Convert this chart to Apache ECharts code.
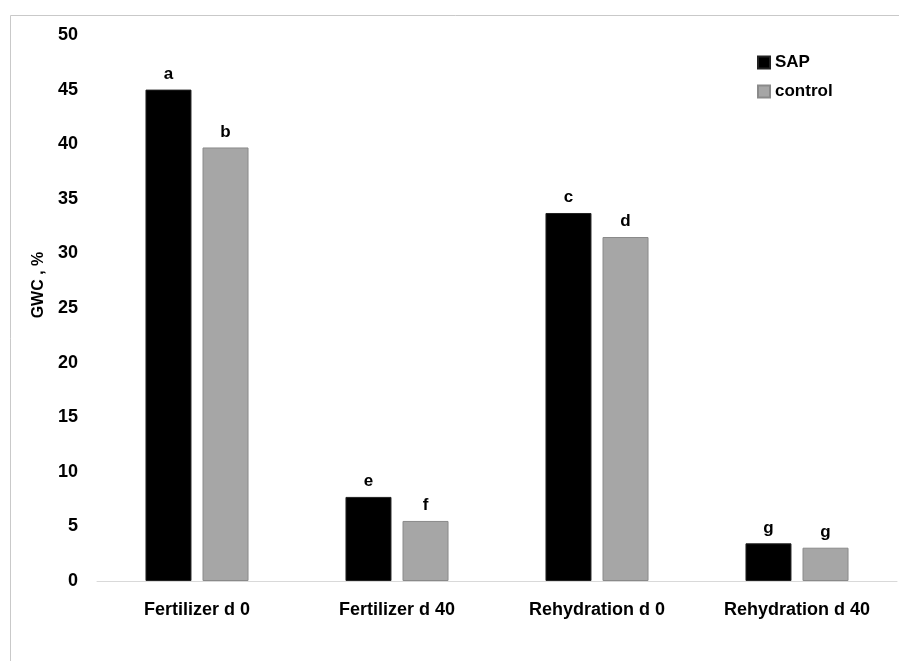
<!DOCTYPE html>
<html>
<head>
<meta charset="utf-8">
<script src="https://cdn.jsdelivr.net/npm/echarts@6/dist/echarts.min.js"></script>
<style>
  html, body { margin: 0; padding: 0; background: #fff; }
  #chart { width: 899px; height: 661px; }
</style>
</head>
<body>
<div id="chart"></div>
<script>
  // data
  var categories = ['Fertilizer d 0', 'Fertilizer d 40', 'Rehydration d 0', 'Rehydration d 40']
  var sapValues = [45.0, 7.7, 33.7, 3.45]
  var controlValues = [39.7, 5.5, 31.5, 3.05]
  var sapLetters = ['a', 'e', 'c', 'g']
  var controlLetters = ['b', 'f', 'd', 'g']
  var yTicks = [0, 50, 5]  // min, max, interval

  var font = 'Liberation Sans'

  function withLetters(values, letters) {
    return values.map(function (v, i) {
      return { value: v, label: { formatter: letters[i] } }
    })
  }

  var chart = echarts.init(document.getElementById('chart'))
  chart.setOption({
    animation: false,
    textStyle: { fontFamily: font },
    graphic: [{
      type: 'rect',
      shape: { x: 10.5, y: 15.5, width: 900, height: 660 },
      style: { fill: 'none', stroke: '#c9c9c9', lineWidth: 1 },
      silent: true
    }],
    legend: {
      orient: 'vertical',
      left: 752,
      top: 49,
      itemWidth: 12,
      itemHeight: 12,
      itemGap: 12,
      icon: 'rect',
      textStyle: { fontFamily: font, fontWeight: 'bold', fontSize: 17, color: '#000' },
      data: ['SAP', 'control']
    },
    grid: {
      left: 97,
      right: 2,
      top: 35,
      bottom: 80,
      containLabel: false
    },
    xAxis: {
      type: 'category',
      data: categories,
      axisTick: { show: false },
      axisLine: { lineStyle: { color: '#d9d9d9', width: 1 } },
      axisLabel: {
        interval: 0,
        hideOverlap: false,
        margin: 20,
        color: '#000',
        fontFamily: font,
        fontWeight: 'bold',
        fontSize: 18
      }
    },
    yAxis: {
      type: 'value',
      min: yTicks[0],
      max: yTicks[1],
      interval: yTicks[2],
      name: 'GWC , %',
      nameLocation: 'middle',
      nameGap: 49,
      nameRotate: 90,
      nameTextStyle: {
        color: '#000',
        fontFamily: font,
        fontWeight: 'bold',
        fontSize: 16,
        padding: [0, 0, 0, 46]
      },
      splitLine: { show: false },
      axisLine: { show: false },
      axisTick: { show: false },
      axisLabel: {
        margin: 19,
        color: '#000',
        fontFamily: font,
        fontWeight: 'bold',
        fontSize: 18
      }
    },
    series: [{
      name: 'SAP',
      type: 'bar',
      barWidth: 46,
      barGap: '24%',
      itemStyle: { color: '#000', borderColor: '#222', borderWidth: 1 },
      label: {
        show: true,
        position: 'top',
        distance: 7,
        color: '#000',
        fontFamily: font,
        fontWeight: 'bold',
        fontSize: 17
      },
      data: withLetters(sapValues, sapLetters)
    }, {
      name: 'control',
      type: 'bar',
      barWidth: 46,
      itemStyle: { color: '#a6a6a6', borderColor: '#8a8a8a', borderWidth: 1 },
      label: {
        show: true,
        position: 'top',
        distance: 7,
        color: '#000',
        fontFamily: font,
        fontWeight: 'bold',
        fontSize: 17
      },
      data: withLetters(controlValues, controlLetters)
    }]
  })
</script>
</body>
</html>
